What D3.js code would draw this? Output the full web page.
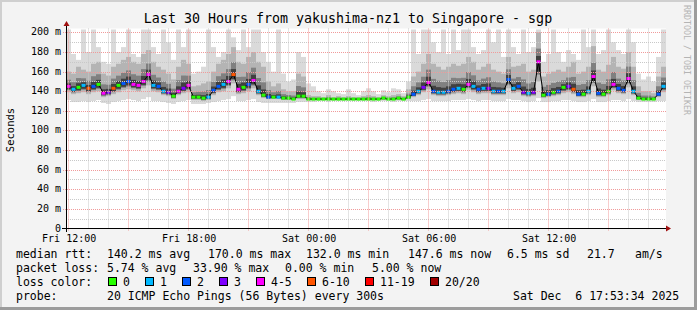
<!DOCTYPE html>
<html>
<head>
<meta charset="utf-8">
<script src="https://cdn.jsdelivr.net/npm/d3@7"></script>
<style>
body { margin: 0; background: #fff; }
text { font-family: "DejaVu Sans Mono", monospace; white-space: pre; }
</style>
</head>
<body>
<div class="chart"></div>
<script>
// 15 minute steps, first step starts at 11:53:34 on Fri 5 Dec 2025
var startTime = new Date(2025, 11, 5, 11, 53, 34);
var endTime = new Date(2025, 11, 6, 17, 53, 34);
var stepMinutes = 15;

// median rtt (ms) per step
var median = [145,142,144,146,143,145,147,138,139,143,
              146,148,150,147,146,150,157,146,145,140,
              139,135,140,143,146,134,134,133,134,141,
              145,147,150,157,142,144,147,151,140,136,
              134,134,134,133,133,132,135,135,132,132,
              132,132,132,132,132,132,132,132,132,132,
              132,132,132,133,132,132,133,132,134,137,
              140,144,149,140,139,139,140,142,143,142,
              147,145,142,143,143,140,140,140,152,143,
              145,139,138,139,170,136,137,139,140,144,
              145,142,137,137,140,155,138,137,140,147,
              143,141,153,140,133,132,132,132,137,145];

// loss class per step (index into lossLabels)
var loss = [4,1,0,1,5,2,0,4,3,5,
            0,2,2,4,4,4,4,1,2,1,
            3,0,4,3,4,0,0,0,1,2,
            2,1,4,5,4,0,2,4,1,0,
            2,0,1,0,0,0,0,0,0,0,
            0,0,0,0,0,0,0,0,0,0,
            0,0,0,0,0,0,0,0,0,2,
            1,3,4,2,1,1,2,2,1,0,
            4,1,2,1,3,1,2,1,2,1,
            2,3,1,3,4,0,2,0,2,0,
            3,5,2,0,1,4,2,0,0,4,
            2,2,4,1,0,0,0,0,2,1];

// smoke: lowest ping, lower quartile, upper quartile, highest ping (ms)
var pingMin = [131,129,129,130,129,130,131,128,127,129,
               130,131,132,131,130,132,134,130,130,129,
               128,127,129,130,131,127,127,127,128,129,
               130,131,132,135,130,130,131,132,129,128,
               128,128,128,128,128,128,129,129,129,129,
               130,130,129,130,130,130,130,130,130,130,
               130,129,130,130,130,129,130,130,130,130,
               130,131,132,130,130,130,130,131,131,131,
               132,131,130,131,131,130,130,130,132,131,
               131,130,129,130,133,129,129,130,130,131,
               131,130,129,129,130,132,129,129,130,131,
               131,130,132,130,129,129,129,129,130,130];

var pingQ1 = [139,137,138,139,137,139,140,134,135,137,
              139,141,142,141,140,143,146,140,139,136,
              135,132,136,138,139,131,131,130,131,136,
              139,140,143,148,137,138,140,143,136,133,
              132,132,132,131,131,131,132,132,131,131,
              131,131,131,131,131,131,131,131,131,131,
              131,131,131,131,131,131,131,131,132,134,
              136,139,142,136,135,135,136,137,138,137,
              141,139,137,138,138,136,136,136,143,138,
              139,135,134,135,150,133,134,135,136,138,
              139,137,134,134,136,145,134,134,136,141,
              138,137,144,136,131,131,131,131,134,139];

var pingQ3 = [160,158,165,162,160,168,170,158,156,165,
              168,172,175,170,168,178,182,170,165,162,
              158,152,165,172,168,145,146,148,150,160,
              168,172,178,185,170,168,175,180,170,165,
              150,145,148,142,140,140,158,155,136,135,
              135,134,136,134,135,134,135,134,134,135,
              136,135,134,136,135,136,137,135,142,155,
              160,168,178,168,165,162,165,168,166,168,
              175,170,162,165,168,162,160,158,175,165,
              166,168,160,162,200,155,158,160,162,160,
              165,170,158,160,165,186,162,160,167,175,
              165,163,180,165,145,140,140,138,155,165];

var pingMax = [203,178,172,203,180,203,185,170,168,203,
               180,185,203,178,175,203,203,185,178,203,
               190,172,203,185,203,158,160,165,203,185,
               175,180,203,195,182,203,185,203,203,180,
               170,160,203,158,150,152,180,175,148,145,
               140,138,142,140,138,137,142,138,136,140,
               143,140,137,141,139,143,142,138,150,203,
               178,203,203,190,180,203,178,203,182,203,
               203,185,178,182,203,190,203,175,203,185,
               178,203,180,185,203,170,178,203,180,170,
               182,178,172,203,185,203,178,182,203,190,
               182,178,203,190,158,152,155,150,175,203];

var lossLabels = ['0', '1', '2', '3', '4-5', '6-10', '11-19', '20/20'];
var lossColors = ['#26ff00', '#00b8ff', '#0059ff', '#7e00ff', '#ff00ff', '#ff5500', '#ff0000', '#a10000'];

var yTicks = [0, 20, 40, 60, 80, 100, 120, 140, 160, 180, 200];

var rttStats = ['140.2 ms avg', '170.0 ms max', '132.0 ms min', '147.6 ms now', '6.5 ms sd', '21.7', 'am/s'];
var lossStats = ['5.74 % avg', '33.90 % max', '0.00 % min', '5.00 % now'];

var title = 'Last 30 Hours from yakushima-nz1 to Singapore - sgp';
var probeText = '20 ICMP Echo Pings (56 Bytes) every 300s';
var stampText = 'Sat Dec  6 17:53:34 2025';

drawChart();

function drawChart() {
    var width = 697;
    var height = 310;

    var svg = d3.select('.chart')
        .append('svg')
        .attr('width', width)
        .attr('height', height);

    // frame
    svg.append('rect').attr('width', width).attr('height', height).attr('fill', '#f3f3f3');
    svg.append('rect').attr('x', 0).attr('y', 0).attr('width', width).attr('height', 2).attr('fill', '#cfcfcf');
    svg.append('rect').attr('x', 0).attr('y', 0).attr('width', 2).attr('height', height).attr('fill', '#cfcfcf');
    svg.append('rect').attr('x', 0).attr('y', height - 3).attr('width', width).attr('height', 3).attr('fill', '#9c9c9c');
    svg.append('rect').attr('x', width - 3).attr('y', 0).attr('width', 3).attr('height', height).attr('fill', '#9c9c9c');

    var x = d3.scaleTime().domain([startTime, endTime]).range([66, 666]);
    var y = d3.scaleLinear().domain([0, 204]).range([228.5, 28.5]);

    var steps = median.map(function(m, i) {
        var t0 = d3.timeMinute.offset(startTime, i * stepMinutes);
        var t1 = d3.timeMinute.offset(startTime, (i + 1) * stepMinutes);
        return { t0: t0, t1: t1, med: m, loss: loss[i], min: pingMin[i], q1: pingQ1[i], q3: pingQ3[i], max: pingMax[i] };
    });

    // plot area
    svg.append('rect')
        .attr('x', x.range()[0]).attr('y', y.range()[1])
        .attr('width', x.range()[1] - x.range()[0])
        .attr('height', y.range()[0] - y.range()[1])
        .attr('fill', '#ffffff');

    svg.append('clipPath').attr('id', 'plotclip')
        .append('rect')
        .attr('x', x.range()[0]).attr('y', y.range()[1])
        .attr('width', x.range()[1] - x.range()[0])
        .attr('height', y.range()[0] - y.range()[1]);

    var plot = svg.append('g').attr('clip-path', 'url(#plotclip)');

    // smoke layers, darker towards the median
    var layers = [
        { col: '#dadada', lo: function(d) { return d.min; }, hi: function(d) { return d.max; } },
        { col: '#b4b4b4', lo: function(d) { return d.q1; }, hi: function(d) { return d.q3; } },
        { col: '#808080', lo: function(d) { return d.q1 + (d.med - d.q1) * 0.35; }, hi: function(d) { return d.med + (d.q3 - d.med) * 0.45; } },
        { col: '#404040', lo: function(d) { return d.med - (d.med - d.q1) * 0.5; }, hi: function(d) { return d.med + (d.q3 - d.med) * 0.2; } }
    ];

    layers.forEach(function(l) {
        plot.append('g')
            .selectAll('rect')
            .data(steps)
            .enter()
            .append('rect')
            .attr('x', function(d) { return x(d.t0); })
            .attr('width', function(d) { return x(d.t1) - x(d.t0); })
            .attr('y', function(d) { return y(l.hi(d)); })
            .attr('height', function(d) { return y(l.lo(d)) - y(l.hi(d)); })
            .attr('fill', l.col);
    });

    // grid
    var grid = svg.append('g');
    var minorY = d3.range(10, 201, 20);
    grid.selectAll('.hmin')
        .data(minorY)
        .enter()
        .append('line')
        .attr('x1', 66).attr('x2', 666)
        .attr('y1', function(d) { return Math.round(y(d)) + 0.5; })
        .attr('y2', function(d) { return Math.round(y(d)) + 0.5; })
        .attr('stroke', '#c8c8c8').attr('stroke-dasharray', '1,1');

    var hours = d3.timeHour.range(startTime, endTime);
    grid.selectAll('.vmin')
        .data(hours.filter(function(h) { return h.getHours() % 3 != 0; }))
        .enter()
        .append('line')
        .attr('x1', function(d) { return Math.round(x(d)) + 0.5; })
        .attr('x2', function(d) { return Math.round(x(d)) + 0.5; })
        .attr('y1', 28.5).attr('y2', 228.5)
        .attr('stroke', '#c8c8c8').attr('stroke-dasharray', '1,1');

    grid.selectAll('.hmaj')
        .data(yTicks.slice(1))
        .enter()
        .append('line')
        .attr('x1', 63).attr('x2', 666)
        .attr('y1', function(d) { return Math.round(y(d)) + 0.5; })
        .attr('y2', function(d) { return Math.round(y(d)) + 0.5; })
        .attr('stroke', '#f09a9a').attr('stroke-dasharray', '1,1');

    grid.selectAll('.vmaj')
        .data(hours.filter(function(h) { return h.getHours() % 3 == 0; }))
        .enter()
        .append('line')
        .attr('x1', function(d) { return Math.round(x(d)) + 0.5; })
        .attr('x2', function(d) { return Math.round(x(d)) + 0.5; })
        .attr('y1', 28.5).attr('y2', 231)
        .attr('stroke', '#f09a9a').attr('stroke-dasharray', '1,1');

    // median: black connector and loss coloured steps
    var line = d3.line()
        .x(function(d) { return (x(d.t0) + x(d.t1)) / 2; })
        .y(function(d) { return y(d.med); });

    plot.append('path')
        .datum(steps)
        .attr('d', line)
        .attr('fill', 'none')
        .attr('stroke', '#000')
        .attr('stroke-width', 1);

    plot.append('g')
        .selectAll('rect')
        .data(steps)
        .enter()
        .append('rect')
        .attr('x', function(d) { return x(d.t0) + 0.5; })
        .attr('width', function(d) { return x(d.t1) - x(d.t0) - 1; })
        .attr('y', function(d) { return y(d.med) - 1.5; })
        .attr('height', 3)
        .attr('fill', function(d) { return lossColors[d.loss]; });

    // axes
    svg.append('line').attr('x1', 62).attr('x2', 667).attr('y1', 228.5).attr('y2', 228.5).attr('stroke', '#000');
    svg.append('line').attr('x1', 66.5).attr('x2', 66.5).attr('y1', 232).attr('y2', 25).attr('stroke', '#000');
    svg.append('path').attr('d', 'M666,225.5 L671,228.5 L666,231.5 Z').attr('fill', '#a01010');
    svg.append('path').attr('d', 'M63.5,26 L66.5,21 L69.5,26 Z').attr('fill', '#a01010');

    svg.selectAll('.ytick')
        .data(yTicks)
        .enter()
        .append('text')
        .attr('x', 61)
        .attr('y', function(d) { return Math.round(y(d)) + 3; })
        .attr('text-anchor', 'end')
        .attr('font-size', '10px')
        .attr('fill', '#000')
        .text(function(d) { return d == 0 ? '0' : d + ' m'; });

    var xTicks = hours.filter(function(h) { return h.getHours() % 6 == 0; });
    var fmt = d3.timeFormat('%a %H:%M');
    svg.selectAll('.xtick')
        .data(xTicks)
        .enter()
        .append('text')
        .attr('x', function(d) { return x(d) + 1; })
        .attr('y', 242)
        .attr('text-anchor', 'middle')
        .attr('font-size', '10px')
        .attr('fill', '#000')
        .text(function(d) { return fmt(d); });

    // titles
    svg.append('text')
        .attr('x', 348).attr('y', 23)
        .attr('text-anchor', 'middle')
        .attr('font-size', '13.3px')
        .text(title);

    svg.append('text')
        .attr('transform', 'translate(14,130) rotate(-90)')
        .attr('text-anchor', 'middle')
        .attr('font-size', '10.5px')
        .text('Seconds');

    svg.append('text')
        .attr('transform', 'translate(684,5) rotate(90)')
        .attr('font-size', '8.3px')
        .attr('fill', '#b4b4b4')
        .text('RRDTOOL / TOBI OETIKER');

    // legend
    var lg = svg.append('g').attr('font-size', '11.5px').attr('fill', '#000');
    var rttX = [107, 208, 306, 408, 507, 587, 635];
    var lossX = [107, 193, 285, 372];

    lg.append('text').attr('x', 16).attr('y', 258).text('median rtt:');
    rttStats.forEach(function(s, i) {
        lg.append('text').attr('x', rttX[i]).attr('y', 258).text(s);
    });

    lg.append('text').attr('x', 16).attr('y', 272).text('packet loss:');
    lossStats.forEach(function(s, i) {
        lg.append('text').attr('x', lossX[i]).attr('y', 272).text(s);
    });

    lg.append('text').attr('x', 16).attr('y', 286).text('loss color:');
    var boxX = [108, 145, 182, 219, 256, 307, 365, 430];
    lossLabels.forEach(function(s, i) {
        lg.append('rect')
            .attr('x', boxX[i] + 0.5).attr('y', 277.5)
            .attr('width', 8).attr('height', 8)
            .attr('fill', lossColors[i])
            .attr('stroke', '#000');
        lg.append('text').attr('x', boxX[i] + 15).attr('y', 286).text(s);
    });

    lg.append('text').attr('x', 16).attr('y', 300).text('probe:');
    lg.append('text').attr('x', 107).attr('y', 300).text(probeText);
    lg.append('text').attr('x', 513).attr('y', 300).text(stampText);
}
</script>
</body>
</html>
